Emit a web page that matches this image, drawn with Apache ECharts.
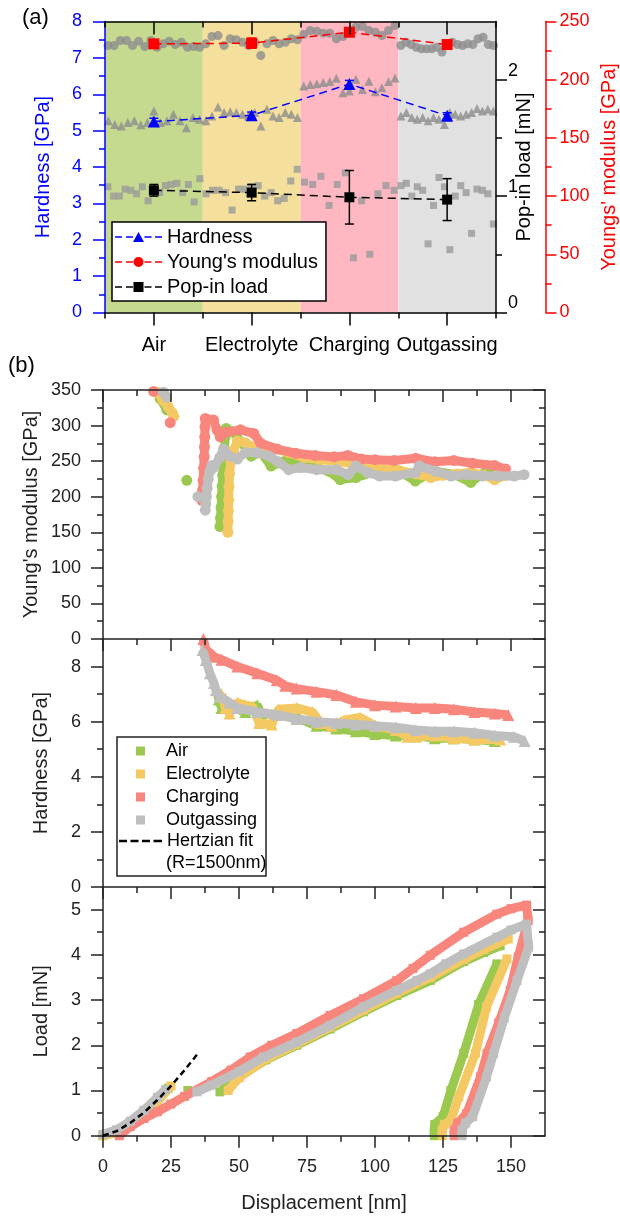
<!DOCTYPE html>
<html><head><meta charset="utf-8">
<script src="https://cdn.jsdelivr.net/npm/echarts@6/dist/echarts.min.js"></script>
<style>html,body{margin:0;padding:0;background:#fff}#c{width:620px;height:1216px}</style>
</head><body><div id="c"></div>
<script>
// ================= DATA =================
// ---- Panel (a) ----
const conditions = ['Air', 'Electrolyte', 'Charging', 'Outgassing'];
const hardnessMean = [5.25, 5.42, 6.28, 5.41];
const hardnessErr  = [0.09, 0.09, 0.10, 0.08];
const modulusMean  = [230.8, 231.4, 240.8, 230.2];
const modulusErr   = [2.0, 4.3, 3.0, 2.5];
const popinMean    = [1.05, 1.03, 0.99, 0.97];
const popinErr     = [0.05, 0.07, 0.23, 0.18];

const youngAir        = [229.4,229.4,233.7,233.7,229.4,233.1,228.5,233.7,227.9,230.8,233.1,230.2,232.2,227.9,228.5,227.9];
const youngElectrolyte= [230.8,237.1,237.9,229.4,235.2,234.3,232.2,229.4,232.2,220.8,230.8,233.7,230.8,232.2,235.2,234.3];
const youngCharging   = [238.8,242.3,241.7,240.0,240.0,235.1,237.1,240.8,245.1,245.7,242.3,240.8,238.0,242.3,246.6];
const youngOutgassing = [229.4,232.2,230.2,227.9,226.5,226.5,226.5,227.9,223.7,230.8,232.2,230.2,229.4,230.8,230.2,235.2,236.5,230.2,229.4];

const hardAir         = [5.27,5.17,5.13,5.22,5.27,5.16,5.22,5.54,5.22,5.27,5.45,5.27,5.08,5.36,5.31];
const hardElectrolyte = [5.27,5.40,5.65,5.50,5.52,5.50,5.45,5.40,5.50,5.13,5.59,5.40,5.36,5.50,5.45,5.36];
const hardCharging    = [6.23,6.27,6.29,6.32,6.35,6.44,6.04,6.09,6.41,6.13,6.36,6.07,6.18,6.35,6.45];
const hardOutgassing  = [5.40,5.50,5.36,5.31,5.36,5.27,5.36,5.31,5.17,5.50,5.45,5.40,5.45,5.50,5.61,5.54,5.59,5.54];

const popAir          = [1.08,1.00,1.00,1.06,1.05,1.02,1.08,0.96,1.04,1.03,1.09,1.10,1.11,1.03,1.10,0.95,1.15];
const popElectrolyte  = [1.02,1.05,1.05,1.03,0.88,1.06,1.06,1.08,1.09,1.00,1.03,0.96,0.98,1.13,1.23];
const popCharging     = [1.12,1.10,1.17,0.92,1.10,1.20,0.47,0.96,0.50,1.02,1.09,1.05];
const popOutgassing   = [1.09,1.11,1.00,1.08,1.05,0.59,0.92,1.16,1.08,0.54,1.00,1.09,1.03,0.68,1.06,1.05,1.02,0.76];

// tick values panel (a)
const hardTicks  = [0,1,2,3,4,5,6,7,8];
const hardMinor  = [0.5,1.5,2.5,3.5,4.5,5.5,6.5,7.5];
const popTicks   = [0,1,2];
const popMinor   = [0.5,1.5];
const modTicksA  = [0,50,100,150,200,250];
const modMinorA  = [25,75,125,175,225];

// ---- Panel (b) : [displacement nm, value] ----
const modAirB = [[21,338],[23.5,322],null,[30.8,223],null,[43.0,158],[43.2,170],[43.4,185],[43.6,200],[43.8,215],[44.0,230],[44.2,245],[44.6,265],[45.0,285],[45.3,296],[48.0,291],[50.9,276],[54.5,257],[58.1,262],[61.8,243],[66.9,250],[74.1,245],[82.9,236],[87.2,224],[93.0,227],[101.7,237],[109.0,236],[114.8,222],[122.1,236],[129.4,231],[135.2,220],[142.5,241]];
const modElectrolyteB = [[20,347],[22,336],[24,326],[25.5,318],[26,313],null,[45.9,150],[46.0,165],[46.1,180],[46.2,195],[46.3,214],[46.5,232],[47.0,250],[48.0,265],[49.4,278],[52.3,276],[55.2,270],[58.1,266],[62.5,268],[68.3,262],[74.1,255],[80.0,252],[86.0,250],[93.0,245],[100.0,240],[107.6,238],[115.0,232],[120.5,227],[125.0,230],[130.0,232],[135.0,234],[140.0,230],[144.0,224],[148.3,230]];
const modChargingB = [[18.6,348],null,[24.7,304],null,[36.3,195],[36.6,209],[36.8,223],[37.0,240],[37.2,256],[37.3,270],[37.4,284],[37.5,298],[37.6,310],[40.6,308],[41.9,294],[43.1,284],[45.6,291],[50.5,294],[55.4,289],[58,275],[64,267],[71,261],[78,258],[85,256],[90,258],[95,253],[100,252],[107,251],[115,254],[122,249],[129,251],[136,247],[144,244],[148,239]];
const modOutgassingB = [[22.2,347],[23.4,340],null,[34.9,200],null,[37.6,181],[37.8,190],[38.0,200],[38.3,212],[38.7,225],[39.2,235],[40.0,244],[40.7,241],[42.9,255],[44.3,267],[46.5,257],[49.4,253],[52.3,262],[56.7,262],[61.0,257],[64.0,250],[68.3,238],[72.7,241],[78.5,238],[85.8,238],[90.1,231],[93.0,243],[97.4,234],[101.7,229],[107.6,229],[114.9,234],[116.3,243],[122.1,236],[127.9,229],[133.7,231],[139.5,229],[145.3,229],[151.2,229],[154.8,231]];

const hardAirB = [[41.8,7.15],[42.6,6.8],[43.6,6.5],[46.5,6.55],[52.3,6.35],[56.7,6.6],[58.1,6.3],[63.9,6.25],[71.2,6.15],[78.5,5.85],[85.8,5.75],[93,5.65],[100,5.55],[107.6,5.5],[115,5.5],[122,5.4],[129,5.4],[136.6,5.35],[144,5.3]];
const hardElectrolyteB = [[43.6,7.0],[45,6.5],[46.5,6.3],[49.4,6.7],[52.3,6.6],[55,6.55],[57.4,5.95],[62,5.9],[64.5,6.45],[71.2,6.5],[77,6.35],[80,5.95],[84,5.85],[88.7,6.05],[94.5,6.15],[100,5.85],[107.6,5.7],[112,5.45],[115,5.45],[122,5.5],[129,5.4],[136.6,5.35],[146,5.35]];
const hardChargingB = [[36.9,9.0],[37.8,8.6],[39.3,8.5],[40.7,8.36],[43.6,8.25],[49.4,8.0],[56.7,7.76],[63.9,7.5],[67,7.3],[71.2,7.2],[78.5,7.09],[85.8,6.97],[93,6.72],[100,6.6],[107.6,6.55],[115,6.5],[122,6.5],[129,6.45],[136.6,6.35],[144,6.3],[149,6.24]];
const hardOutgassingB = [[36.6,8.6],[37.8,8.24],[39.3,7.76],[40.8,7.4],[41.5,7.15],[43,6.9],[46.5,6.7],[49.4,6.5],[56.7,6.35],[63.9,6.25],[71.2,6.1],[78.5,6.0],[85.8,5.95],[93,5.9],[100,5.85],[107.6,5.8],[115,5.7],[122,5.65],[129,5.65],[136.6,5.6],[144,5.5],[151,5.45],[155,5.3]];

const loadAirB = [[0,0],[5,0.08],[10,0.25],[15,0.5],[20,0.8],[24,1.05],null,[31.2,1.0],null,[43,0.97],[50,1.3],[60,1.68],[71.3,2.0],[83.5,2.36],[95.8,2.74],[108,3.1],[120.3,3.43],[132.6,3.85],[140,4.05],[146,4.2],null,[144.8,3.8],[138.1,2.9],[132.6,1.82],[127.9,1.0],[125,0.42],[122,0.25],[121.8,0.12],[121.8,0]];
const loadElectrolyteB = [[0,0],[5,0.07],[10,0.22],[15,0.45],[20,0.75],[25,1.1],null,[46,1.0],[50,1.28],[60,1.7],[71.3,2.03],[83.5,2.4],[95.8,2.78],[108,3.15],[120.3,3.5],[132.6,3.9],[140,4.12],[149,4.35],null,[148.5,3.91],[141,2.85],[136.9,1.82],[130.8,0.86],[127.9,0.34],[125.5,0.25],[124.7,0.12],[124.7,0]];
const loadChargingB = [[6,0],[10,0.2],[15,0.38],[20,0.53],[25,0.7],[30,0.87],[40,1.2],[47,1.45],[54.1,1.74],[62,2.0],[71.3,2.26],[83.5,2.66],[95.8,3.03],[108,3.43],[114,3.7],[120.3,3.99],[132.6,4.5],[144.8,4.9],[150,5.02],[155.7,5.1],[156.3,4.76],[152.6,3.95],[149.7,3.21],[145.5,2.5],[141.2,1.82],[138.8,1.3],[133.7,0.49],[130.5,0.28],[129.1,0.12],[129.1,0]];
const loadOutgassingB = [[0,0.03],[5,0.13],[10,0.32],[15,0.56],[20,0.85],[23,1.02],null,[34.5,0.97],[40,1.12],[50,1.42],[59,1.74],[71.3,2.07],[83.5,2.44],[95.8,2.85],[108,3.21],[115.4,3.43],[120.3,3.58],[126,3.8],[132.6,4.02],[144.8,4.39],[150,4.55],[155.7,4.68],[156.5,4.17],[152.2,3.43],[147.5,2.6],[143.6,1.82],[141,1.3],[135.9,0.42],[133.3,0.28],[132,0.12],[132,0]];
const hertzFit = [[0,0],[5,0.1],[10,0.28],[15,0.51],[20,0.79],[25,1.1],[30,1.45],[35.3,1.85]];

// tick values panel (b)
const dispTicks  = [0,25,50,75,100,125,150];
const dispMinor  = [12.5,37.5,62.5,87.5,112.5,137.5];
const modTicksB  = [0,50,100,150,200,250,300,350];
const modMinorB  = [25,75,125,175,225,275,325];
const hardTicksB = [0,2,4,6,8];
const hardMinorB = [1,3,5,7];
const loadTicks  = [0,1,2,3,4,5];
const loadMinor  = [0.5,1.5,2.5,3.5,4.5];

// ================= STYLE / LAYOUT =================
const FONT = '"Liberation Sans", Arial, Helvetica, sans-serif';
const FRAME = '#222';
const BLUE = '#0000ff', RED = '#ff0000';
const REGION_COLORS = ['#c5da8f', '#f5df9c', '#ffb8c2', '#e1e1e1'];
const COND_COLORS = ['#9bc94f', '#f4c862', '#f8867d', '#bfbfbf'];

function ax(o) {
  const col = o.color || FRAME;
  const a = {
    type: 'value', gridIndex: o.grid, position: o.pos, min: o.min, max: o.max,
    offset: o.offset || 0, z: 10, silent: true,
    axisLine: { show: !!o.line, onZero: false, lineStyle: { color: col, width: 1.5 } },
    axisTick: { show: true, customValues: o.ticks, length: o.len, inside: !!o.inside,
                lineStyle: { color: col, width: 1.5 } },
    axisLabel: { show: false },
    splitLine: { show: false }, minorTick: { show: false }, minorSplitLine: { show: false }
  };
  if (o.labels) {
    a.axisLabel = Object.assign({ show: true, customValues: o.labels, fontFamily: FONT, fontSize: 18,
      color: col, margin: o.margin }, o.labelExtra || {});
  }
  if (o.name) {
    a.name = o.name; a.nameLocation = 'middle'; a.nameGap = o.nameGap; a.nameRotate = o.nameRotate;
    a.nameMoveOverlap = false;
    a.nameTextStyle = { fontFamily: FONT, fontSize: 20, color: o.nameColor || col };
  }
  return a;
}

const xAxes = [], yAxes = [];
// ---- Panel (a) axes ----
const catCenters = conditions.map((c, i) => i + 0.5);
const catBounds = conditions.map((c, i) => i).concat([conditions.length]);
xAxes.push(ax({grid:0,pos:'bottom',min:0,max:4,line:true,ticks:catCenters,len:13,color:'#000',
  labels:catCenters,margin:23,labelExtra:{fontSize:20,formatter:v=>conditions[Math.floor(v)]}})); //0
xAxes.push(ax({grid:0,pos:'bottom',min:0,max:4,ticks:catBounds,len:6,color:'#000'})); //1
xAxes.push(ax({grid:0,pos:'top',min:0,max:4,line:true,ticks:catCenters,len:13,inside:true,color:'#000'})); //2
xAxes.push(ax({grid:0,pos:'top',min:0,max:4,ticks:catBounds,len:6,inside:true,color:'#000'})); //3

yAxes.push(ax({grid:0,pos:'left',min:0,max:8,line:true,ticks:hardTicks,len:12,color:BLUE,
  labels:hardTicks,margin:23,name:'Hardness [GPa]',nameGap:52,nameRotate:90})); //0
yAxes.push(ax({grid:0,pos:'left',min:0,max:8,ticks:hardMinor,len:6,color:BLUE})); //1
yAxes.push(ax({grid:0,pos:'right',min:0,max:2.5,line:true,ticks:popTicks,len:11,color:'#000',
  labels:popTicks,margin:12,labelExtra:{verticalAlign:'bottom'},name:'Pop-in load [mN]',nameGap:18,nameRotate:90})); //2
yAxes.push(ax({grid:0,pos:'right',min:0,max:2.5,ticks:popMinor,len:6,color:'#000'})); //3
yAxes.push(ax({grid:0,pos:'right',offset:49.5,min:0,max:250,line:true,ticks:modTicksA,len:11,color:RED,
  labels:modTicksA,margin:14,name:"Youngs' modulus [GPa]",nameGap:54,nameRotate:90})); //4
yAxes.push(ax({grid:0,pos:'right',offset:49.5,min:0,max:250,ticks:modMinorA,len:6,color:RED})); //5

// ---- Panel (b) axes ----
const gridsB = [
  {ymin:0, ymax:350, major:modTicksB, minor:modMinorB, name:"Young's modulus [GPa]", gap:62},
  {ymin:0, ymax:9, major:hardTicksB, minor:hardMinorB, name:'Hardness [GPa]', gap:52},
  {ymin:0, ymax:5.5, major:loadTicks, minor:loadMinor, name:'Load [mN]', gap:52}
];
const bIdx = [];
gridsB.forEach((g, k) => {
  const gi = k + 1;
  const xi = xAxes.length;
  const last = k === gridsB.length - 1;
  xAxes.push(ax({grid:gi,pos:'bottom',min:0,max:162.5,line:true,ticks:dispTicks,len:12,
    labels:last ? dispTicks : null, margin:22,
    name:last ? 'Displacement [nm]' : null, nameGap:58}));
  xAxes.push(ax({grid:gi,pos:'bottom',min:0,max:162.5,ticks:dispMinor,len:6}));
  if (k === 0) {
    xAxes.push(ax({grid:gi,pos:'top',min:0,max:162.5,line:true,ticks:dispTicks,len:12,inside:true}));
    xAxes.push(ax({grid:gi,pos:'top',min:0,max:162.5,ticks:dispMinor,len:6,inside:true}));
  }
  const yi = yAxes.length;
  yAxes.push(ax({grid:gi,pos:'left',min:g.ymin,max:g.ymax,line:true,ticks:g.major,len:12,
    labels:g.major,margin:22,name:g.name,nameGap:g.gap,nameRotate:90}));
  yAxes.push(ax({grid:gi,pos:'left',min:g.ymin,max:g.ymax,ticks:g.minor,len:6}));
  yAxes.push(ax({grid:gi,pos:'right',min:g.ymin,max:g.ymax,line:true,ticks:g.major,len:12,inside:true}));
  yAxes.push(ax({grid:gi,pos:'right',min:g.ymin,max:g.ymax,ticks:g.minor,len:6,inside:true}));
  bIdx.push({x: xi, y: yi});
});

// ================= SERIES =================
const series = [];
// background regions
series.push({type:'line', xAxisIndex:0, yAxisIndex:0, data:[], z:1, silent:true,
  markArea:{silent:true, data: conditions.map((c,i)=>[{xAxis:i, itemStyle:{color:REGION_COLORS[i], opacity:1}},{xAxis:i+1}])}});

function spread(groups) {
  const out = [];
  groups.forEach((vals, r) => vals.forEach((v, j) => out.push([r + (j + 0.5) / vals.length, v])));
  return out;
}
series.push({type:'scatter', xAxisIndex:0, yAxisIndex:4, silent:true, z:2,
  data: spread([youngAir, youngElectrolyte, youngCharging, youngOutgassing]),
  symbol:'circle', symbolSize:9, itemStyle:{color:'#8d8d8d'}});
series.push({type:'scatter', xAxisIndex:0, yAxisIndex:0, silent:true, z:2,
  data: spread([hardAir, hardElectrolyte, hardCharging, hardOutgassing]),
  symbol:'triangle', symbolSize:9, itemStyle:{color:'#8d8d8d'}});
series.push({type:'scatter', xAxisIndex:0, yAxisIndex:2, silent:true, z:2,
  data: spread([popAir, popElectrolyte, popCharging, popOutgassing]),
  symbol:'rect', symbolSize:7, itemStyle:{color:'#9a9a9a'}});

function meanSeries(name, means, yIdx, color, symbol, size) {
  return {type:'line', name, xAxisIndex:0, yAxisIndex:yIdx, z:5, silent:true,
    data: means.map((v, i) => [i + 0.5, v]), symbol, symbolSize:size,
    lineStyle:{color, width:1.5, type:[8,5]}, itemStyle:{color}};
}
function errSeries(means, errs, yIdx, color) {
  return {type:'custom', xAxisIndex:0, yAxisIndex:yIdx, z:4, silent:true,
    data: means.map((v, i) => [i + 0.5, v - errs[i], v + errs[i]]),
    encode:{x:0, y:[1,2]},
    renderItem(params, api) {
      const x = api.value(0);
      const lo = api.coord([x, api.value(1)]);
      const hi = api.coord([x, api.value(2)]);
      const w = 4.5, st = {stroke:color, lineWidth:1.5};
      return {type:'group', children:[
        {type:'line', shape:{x1:lo[0], y1:lo[1], x2:hi[0], y2:hi[1]}, style:st},
        {type:'line', shape:{x1:lo[0]-w, y1:lo[1], x2:lo[0]+w, y2:lo[1]}, style:st},
        {type:'line', shape:{x1:hi[0]-w, y1:hi[1], x2:hi[0]+w, y2:hi[1]}, style:st}]};
    }};
}
series.push(errSeries(hardnessMean, hardnessErr, 0, BLUE));
series.push(errSeries(modulusMean, modulusErr, 4, RED));
series.push(errSeries(popinMean, popinErr, 2, '#000'));
series.push(meanSeries('Hardness', hardnessMean, 0, BLUE, 'triangle', 12));
series.push(meanSeries("Young's modulus", modulusMean, 4, RED, 'rect', 11));
series.push(meanSeries('Pop-in load', popinMean, 2, '#000', 'rect', 10));

// panel (b)
const gap = p => (p ? p : ['-', '-']);
const panelData = [
  [modAirB, modElectrolyteB, modChargingB, modOutgassingB],
  [hardAirB, hardElectrolyteB, hardChargingB, hardOutgassingB],
  [loadAirB, loadElectrolyteB, loadChargingB, loadOutgassingB]
];
const panelSym = [['circle', 11, 9], ['triangle', 12, 9], ['rect', 9, 9]];
panelData.forEach((sets, k) => {
  sets.forEach((d, c) => {
    series.push({type:'line', name:conditions[c], xAxisIndex:bIdx[k].x, yAxisIndex:bIdx[k].y,
      data: d.map(gap), connectNulls:false, silent:true, z:3 + c,
      symbol: panelSym[k][0], symbolSize: panelSym[k][1], showSymbol:true,
      lineStyle:{color:COND_COLORS[c], width:panelSym[k][2]}, itemStyle:{color:COND_COLORS[c]}});
  });
});
series.push({type:'line', name:'Hertzian fit', xAxisIndex:bIdx[2].x, yAxisIndex:bIdx[2].y,
  data: hertzFit, symbol:'none', showSymbol:false, silent:true, z:10,
  lineStyle:{color:'#000', width:2.5, type:[6,4]}, itemStyle:{color:'#000'}});

// ================= LEGEND ICONS =================
const dashes = 'M0,4.25h7v1.5h-7z M11,4.25h7v1.5h-7z M29.5,4.25h7v1.5h-7z M40,4.25h7v1.5h-7z ';
const ICON_TRI = 'path://' + dashes + 'M23.5,0L29,10L18,10z';
const ICON_CIRC = 'path://' + dashes + 'M18.5,5A5,5 0 1,0 28.5,5A5,5 0 1,0 18.5,5z';
const ICON_SQ = 'path://' + dashes + 'M18.5,0h10v10h-10z';
const ICON_DASH = 'path://M0,0h8v2.5h-8z M11.5,0h8v2.5h-8z M23,0h8v2.5h-8z M34.5,0h8.5v2.5h-8.5z';

const option = {
  animation: false,
  backgroundColor: '#fff',
  grid: [
    {left:105, top:21.5, width:391, height:291, outerBoundsMode:'none'},
    {left:103, top:390, width:442, height:249, outerBoundsMode:'none'},
    {left:103, top:639, width:442, height:248, outerBoundsMode:'none'},
    {left:103, top:887, width:442, height:248.7, outerBoundsMode:'none'}
  ],
  xAxis: xAxes,
  yAxis: yAxes,
  legend: [
    {orient:'vertical', left:112, top:222, padding:[5,8,4,3], itemGap:5, itemWidth:47, itemHeight:10,
     borderColor:'#000', borderWidth:1.5, backgroundColor:'#fff', z:20, selectedMode:false,
     itemStyle:{borderWidth:0},
     textStyle:{fontFamily:FONT, fontSize:20, color:'#000', lineHeight:20},
     data:[{name:'Hardness', icon:ICON_TRI}, {name:"Young's modulus", icon:ICON_CIRC}, {name:'Pop-in load', icon:ICON_SQ}]},
    {orient:'vertical', left:136, top:741, padding:0, itemGap:3, itemWidth:9, itemHeight:9, z:20,
     selectedMode:false, itemStyle:{borderWidth:0},
     textStyle:{fontFamily:FONT, fontSize:18, color:'#000', lineHeight:20, padding:[0,0,0,16]},
     data: conditions.map(n => ({name:n, icon:'rect'}))},
    {orient:'vertical', left:119, top:831, padding:0, itemWidth:43, itemHeight:2.5, z:20, selectedMode:false,
     itemStyle:{borderWidth:0},
     textStyle:{fontFamily:FONT, fontSize:18, color:'#000', lineHeight:20},
     data:[{name:'Hertzian fit', icon:ICON_DASH}]}
  ],
  graphic: [
    {type:'text', x:22, y:18, z:30, style:{text:'(a)', font:'22px ' + FONT, fill:'#000', verticalAlign:'middle'}},
    {type:'text', x:8, y:366, z:30, style:{text:'(b)', font:'22px ' + FONT, fill:'#000', verticalAlign:'middle'}},
    {type:'rect', z:15, shape:{x:117, y:737, width:149, height:139}, style:{fill:'#fff', stroke:FRAME, lineWidth:1.5}},
    {type:'text', x:166, y:863, z:30, style:{text:'(R=1500nm)', font:'18px ' + FONT, fill:'#000', verticalAlign:'middle'}}
  ],
  series
};
const chart = echarts.init(document.getElementById('c'), null, {renderer:'canvas', width:620, height:1216});
chart.setOption(option);
</script>
</body></html>
